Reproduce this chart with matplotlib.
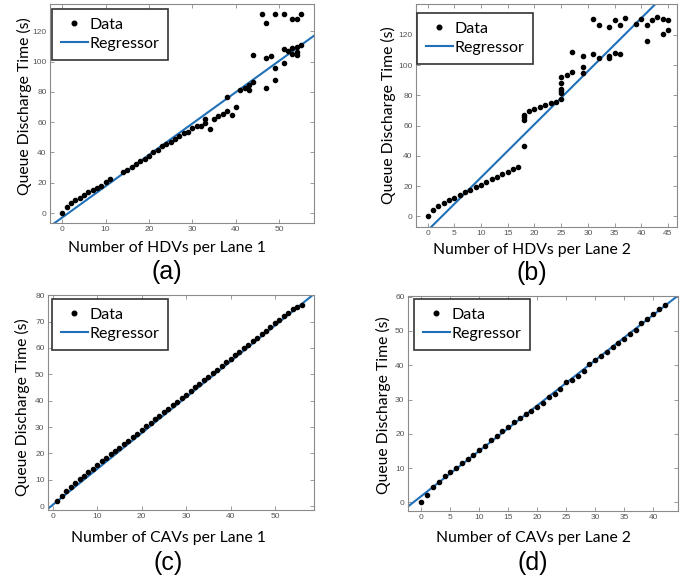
import numpy as np
import matplotlib
matplotlib.use("Agg")
import matplotlib.pyplot as plt

# ---- data ----
# (a) HDVs lane 1
hdv1_x = [0, 1, 2, 3, 4, 5, 6, 7, 8, 9, 10, 11, 14, 15, 16, 17, 18, 19, 20, 21, 22, 23, 24,
          25, 26, 27, 28, 29, 30, 31, 32, 33, 33, 34, 35, 36, 37, 38, 38, 39, 40, 41, 42,
          43, 43, 44, 44, 46, 47, 47, 47, 48, 49, 49, 49, 51, 51, 51, 52, 53, 53, 53,
          54, 54, 54, 54, 55, 55]
hdv1_y = [0, 4, 6.6, 8.4, 9.9, 12.1, 13.7, 15.4, 16.5, 17.6, 20.3, 22.5, 26.9, 28.2, 30.4,
          32.6, 34.1, 35.9, 37.9, 40.1, 41.4, 44.1, 45.8, 46.9, 48.9, 50.7, 52.9, 53.5, 56.2,
          57.7, 57.3, 59.5, 62.1, 55.5, 62.1, 63.9, 65.6, 76.7, 67.6, 64.5, 70, 81, 82.6,
          84.4, 81.5, 104.5, 86.8, 131.7, 125.5, 102.2, 82.5, 103.5, 131.5, 95.7, 87.6,
          131.5, 108.4, 99.1, 106.8, 128, 109, 105.2, 128, 109.8, 106.1, 104.6, 131.3, 110.6]
hdv1_fit = (2.07, -3.0)

# (b) HDVs lane 2
hdv2_x = [0, 1, 2, 3, 4, 5, 6, 7, 8, 9, 10, 11, 12, 13, 14, 15, 16, 17, 18, 18, 18, 18,
          19, 20, 21, 22, 23, 24, 25, 25, 25, 25, 25, 25, 26, 27, 27, 29, 29, 29, 31, 31,
          32, 32, 34, 34, 34, 35, 35, 36, 36, 37, 39, 40, 41, 41, 42, 43, 44, 44, 45, 45]
hdv2_y = [0, 4, 6.6, 8.8, 10.6, 12.4, 14.1, 15.9, 17.7, 19.4, 20.8, 22.5, 24.5, 26.1, 27.8,
          29.4, 31.4, 32.7, 46.5, 63.6, 65.4, 67.0, 69.3, 71.2, 72.3, 73.4, 75.0, 75.9,
          77.4, 81.4, 82.7, 84.0, 88.4, 92.0, 93.7, 95.2, 108.4, 95.0, 98.4, 106.0, 107.6,
          130.4, 105.0, 126.6, 106.1, 104.4, 125.5, 108.3, 129.7, 107.6, 126.2, 131.3,
          127.1, 130.6, 126.2, 116.0, 129.5, 131.7, 130.2, 120.5, 129.5, 122.9]
hdv2_fit = (3.51, -9.35)

# (c) CAVs lane 1
cav1_x = list(range(1, 57))
cav1_y = [2.0, 3.9, 5.6, 7.2, 8.7, 10.2, 11.5, 12.9, 14.2, 15.6, 17.0, 18.3, 19.6, 20.9,
          22.2, 23.5, 24.8, 26.2, 27.5, 28.9, 30.2, 31.6, 32.9, 34.2, 35.6, 36.9, 38.3,
          39.6, 41.0, 42.3, 43.7, 45.0, 46.4, 47.7, 49.1, 50.4, 51.8, 53.1, 54.5, 55.8,
          57.2, 58.5, 59.9, 61.2, 62.6, 63.9, 65.3, 66.6, 68.0, 69.3, 70.7, 72.0, 73.3,
          74.6, 75.6, 76.4]
cav1_fit = (1.36, 0.5)

# (d) CAVs lane 2
cav2_x = list(range(0, 43))
cav2_y = [0, 2.3, 4.5, 6.0, 7.7, 8.9, 10.0, 11.4, 12.6, 13.8, 15.4, 16.6, 18.1, 19.4, 20.8,
          22.0, 23.4, 24.7, 25.7, 26.7, 27.8, 29.0, 30.8, 31.7, 33.1, 35.1, 35.8, 37.0,
          38.4, 40.3, 41.5, 42.8, 43.8, 45.2, 46.5, 47.8, 49.2, 50.4, 52.2, 53.4, 54.9,
          56.3, 57.5]
cav2_fit = (1.32, 1.85)

W, H = 699, 585
fig = plt.figure(figsize=(W / 100, H / 100), dpi=100)

label_font = "Lato"
blue = "#1f70b8"


def fx(px):
    return px / W


def fy(py):
    return 1 - py / H


def panel(rect, x, y, fit, xlim, ylim, xticks, yticks, xlabel, letter,
          xlab_pos, ylab_pos, let_pos, leg_pos):
    l, r, t, b = rect
    ax = fig.add_axes([fx(l), fy(b), fx(r - l), (b - t) / H])
    ax.plot(x, y, "o", color="black", markersize=3.0, label="Data", zorder=3)
    xx = np.array(xlim)
    ax.plot(xx, fit[0] * xx + fit[1], color=blue, lw=1.5, label="Regressor", zorder=2)
    ax.set_xlim(xlim)
    ax.set_ylim(ylim)
    ax.set_xticks(xticks)
    ax.set_yticks(yticks)
    ax.tick_params(direction="in", length=3, width=0.6, colors="#8a8a8a",
                   labelcolor="#555555", labelsize=6, top=True, right=True, pad=2.5)
    for tl in ax.get_xticklabels() + ax.get_yticklabels():
        tl.set_family("Liberation Sans")
    for s in ax.spines.values():
        s.set_color("#8a8a8a")
        s.set_linewidth(0.8)
    fig.text(fx(xlab_pos[0]), fy(xlab_pos[1]), xlabel, ha="center", va="center",
             fontsize=11.3, family=label_font)
    fig.text(fx(ylab_pos[0]), fy(ylab_pos[1]), "Queue Discharge Time (s)", ha="center",
             va="center", rotation=90, fontsize=11.3, family=label_font)
    fig.text(fx(let_pos[0]), fy(let_pos[1]), letter, ha="center", va="center",
             fontsize=18, family="Liberation Sans")
    leg = ax.legend(loc="upper left", bbox_to_anchor=(fx(leg_pos[0]), fy(leg_pos[1])),
                    bbox_transform=fig.transFigure, borderaxespad=0,
                    prop={"family": label_font, "size": 11.5}, fancybox=False,
                    framealpha=1, edgecolor="#333333", handlelength=1.7,
                    handletextpad=0.1, borderpad=0.55, labelspacing=0.3, markerscale=1.1)
    leg.get_frame().set_linewidth(1.2)
    return ax


panel((50, 314, 4, 223), hdv1_x, hdv1_y, hdv1_fit, (-2.8, 58), (-6.6, 138),
      range(0, 51, 10), range(0, 121, 20), "Number of HDVs per Lane 1", "(a)",
      (167, 248), (24, 106), (167, 272), (52, 9))
panel((416, 677, 4, 227), hdv2_x, hdv2_y, hdv2_fit, (-2.2, 46.7), (-7.1, 140.4),
      range(0, 46, 5), range(0, 121, 20), "Number of HDVs per Lane 2", "(b)",
      (532, 250), (388, 115), (532, 273), (417, 13))
panel((48, 314, 295, 510), cav1_x, cav1_y, cav1_fit, (-1.1, 58.8), (-1.5, 80.1),
      range(0, 51, 10), range(0, 81, 10), "Number of CAVs per Lane 1", "(c)",
      (168, 538), (22, 407), (168, 563), (52, 299))
panel((408, 678, 296, 511), cav2_x, cav2_y, cav2_fit, (-2.3, 44.3), (-2.5, 60.2),
      range(0, 41, 5), range(0, 61, 10), "Number of CAVs per Lane 2", "(d)",
      (533, 538), (383, 405), (533, 563), (414, 299))

fig.savefig("out.png", dpi=100)
